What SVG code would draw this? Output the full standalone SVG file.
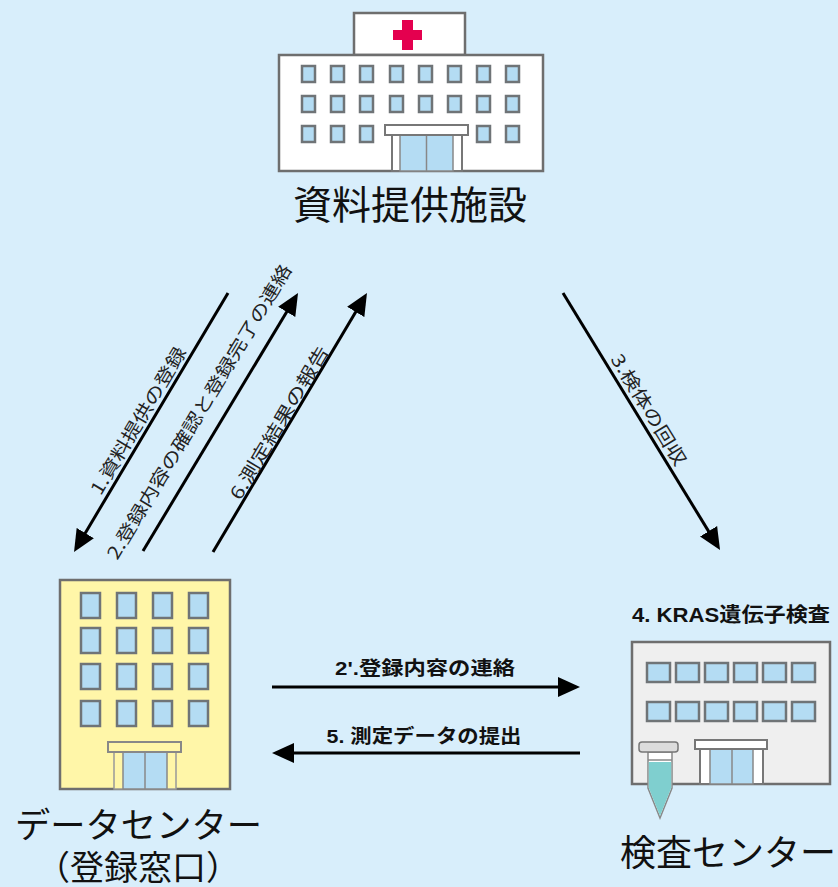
<svg xmlns="http://www.w3.org/2000/svg" width="838" height="887" viewBox="0 0 838 887">
  <style>
    .bg { fill: #d8eefb; }
    .wall { stroke: #6e6e6e; stroke-width: 2.5; }
    .win { fill: #b4dcf3; stroke: #6f7477; stroke-width: 2.5; }
    .trim { fill: #ffffff; stroke: #777; stroke-width: 2; }
    .glass { fill: #b4dcf3; stroke: #888; stroke-width: 1.5; }
    .arrow { fill: none; stroke: #000; stroke-width: 3; marker-end: url(#head); }
    .big { font-family: "Noto Sans CJK JP", sans-serif; fill: #111; }
    .lbl { font-family: "Liberation Sans", "Noto Sans CJK JP", sans-serif; font-weight: bold; fill: #111; }
    .diag { font-family: "Noto Sans CJK JP", sans-serif; font-size: 18px; fill: #222; dominant-baseline: central; text-anchor: middle; }
  </style>
  <defs>
    <marker id="head" markerUnits="userSpaceOnUse" markerWidth="24" markerHeight="22" refX="6" refY="11" orient="auto">
      <path d="M0,1 L22,11 L0,21 z" fill="#000"/>
    </marker>
  </defs>

  <rect class="bg" x="0" y="0" width="838" height="887"/>

  <!-- hospital -->
  <g id="hospital">
    <rect class="wall" x="354" y="13" width="111" height="42" fill="#fff"/>
    <rect x="402" y="20" width="11" height="30" fill="#e4004f"/>
    <rect x="393" y="30" width="29" height="10" fill="#e4004f"/>
    <rect class="wall" x="279" y="55" width="264" height="116" fill="#fff"/>
    <g>
      <rect class="win" x="302" y="66" width="13" height="16"/>
      <rect class="win" x="331" y="66" width="13" height="16"/>
      <rect class="win" x="360" y="66" width="13" height="16"/>
      <rect class="win" x="390" y="66" width="13" height="16"/>
      <rect class="win" x="419" y="66" width="13" height="16"/>
      <rect class="win" x="448" y="66" width="13" height="16"/>
      <rect class="win" x="477" y="66" width="13" height="16"/>
      <rect class="win" x="506" y="66" width="13" height="16"/>
      <rect class="win" x="302" y="96" width="13" height="16"/>
      <rect class="win" x="331" y="96" width="13" height="16"/>
      <rect class="win" x="360" y="96" width="13" height="16"/>
      <rect class="win" x="390" y="96" width="13" height="16"/>
      <rect class="win" x="419" y="96" width="13" height="16"/>
      <rect class="win" x="448" y="96" width="13" height="16"/>
      <rect class="win" x="477" y="96" width="13" height="16"/>
      <rect class="win" x="506" y="96" width="13" height="16"/>
      <rect class="win" x="302" y="126" width="13" height="16"/>
      <rect class="win" x="331" y="126" width="13" height="16"/>
      <rect class="win" x="360" y="126" width="13" height="16"/>
      <rect class="win" x="477" y="126" width="13" height="16"/>
      <rect class="win" x="506" y="126" width="13" height="16"/>
    </g>
    <rect class="trim" x="392" y="135" width="70" height="36"/>
    <rect class="glass" x="400" y="135" width="53" height="36"/>
    <line x1="426.5" y1="135" x2="426.5" y2="171" stroke="#888" stroke-width="1.5"/>
    <rect class="trim" x="385" y="125" width="83" height="10"/>
    <text class="big" x="410" y="219" font-size="39" text-anchor="middle">資料提供施設</text>
  </g>

  <!-- data centre -->
  <g id="data-center">
    <rect class="wall" x="60" y="580" width="170" height="209" fill="#fff6a8" stroke="#7a7a70"/>
    <g>
      <rect class="win" x="81" y="593" width="19" height="25"/>
      <rect class="win" x="117" y="593" width="19" height="25"/>
      <rect class="win" x="153" y="593" width="19" height="25"/>
      <rect class="win" x="189" y="593" width="19" height="25"/>
      <rect class="win" x="81" y="628" width="19" height="25"/>
      <rect class="win" x="117" y="628" width="19" height="25"/>
      <rect class="win" x="153" y="628" width="19" height="25"/>
      <rect class="win" x="189" y="628" width="19" height="25"/>
      <rect class="win" x="81" y="664" width="19" height="25"/>
      <rect class="win" x="117" y="664" width="19" height="25"/>
      <rect class="win" x="153" y="664" width="19" height="25"/>
      <rect class="win" x="189" y="664" width="19" height="25"/>
      <rect class="win" x="81" y="701" width="19" height="25"/>
      <rect class="win" x="117" y="701" width="19" height="25"/>
      <rect class="win" x="153" y="701" width="19" height="25"/>
      <rect class="win" x="189" y="701" width="19" height="25"/>
    </g>
    <rect x="114" y="752" width="62" height="37" fill="#fff6a8" stroke="#999" stroke-width="1.5"/>
    <rect class="glass" x="123" y="752" width="44" height="37"/>
    <line x1="145" y1="752" x2="145" y2="789" stroke="#888" stroke-width="1.5"/>
    <rect x="108" y="742" width="73" height="10" fill="#fff6a8" stroke="#888" stroke-width="2"/>
    <text class="big" x="15" y="838" font-size="35" textLength="247" lengthAdjust="spacingAndGlyphs">データセンター</text>
    <text class="big" x="138" y="880" font-size="34" text-anchor="middle">（登録窓口）</text>
  </g>

  <!-- testing centre -->
  <g id="test-center">
    <text class="lbl" x="632" y="622" font-size="20" textLength="198" lengthAdjust="spacingAndGlyphs">4. KRAS遺伝子検査</text>
    <rect class="wall" x="632" y="642" width="198" height="142" fill="#efefef" stroke="#777"/>
    <g>
      <rect class="win" x="647" y="663" width="23" height="19"/>
      <rect class="win" x="676" y="663" width="23" height="19"/>
      <rect class="win" x="705" y="663" width="23" height="19"/>
      <rect class="win" x="734" y="663" width="23" height="19"/>
      <rect class="win" x="763" y="663" width="23" height="19"/>
      <rect class="win" x="792" y="663" width="23" height="19"/>
      <rect class="win" x="647" y="702" width="23" height="19"/>
      <rect class="win" x="676" y="702" width="23" height="19"/>
      <rect class="win" x="705" y="702" width="23" height="19"/>
      <rect class="win" x="734" y="702" width="23" height="19"/>
      <rect class="win" x="763" y="702" width="23" height="19"/>
      <rect class="win" x="792" y="702" width="23" height="19"/>
    </g>
    <rect class="trim" x="700" y="749" width="63" height="35" fill="#f4f4f4"/>
    <rect class="glass" x="710" y="749" width="43" height="35"/>
    <line x1="732" y1="749" x2="732" y2="784" stroke="#888" stroke-width="1.5"/>
    <rect class="trim" x="695" y="740" width="72" height="9" fill="#f4f4f4"/>
    <!-- sample tube -->
    <g id="tube">
      <path d="M648,752 L672,752 L672,788 L660,818 L648,788 z" fill="#ffffff" stroke="#888" stroke-width="1.5"/>
      <path d="M648.8,762 L671.2,762 L671.2,788 L660,816 L648.8,788 z" fill="#7fcfcf"/>
      <line x1="648" y1="760" x2="672" y2="760" stroke="#888" stroke-width="1.5"/>
      <rect x="639" y="742" width="39" height="10" rx="3" fill="#dcdcdc" stroke="#777" stroke-width="1.5"/>
    </g>
    <text class="big" x="620" y="866" font-size="36" textLength="216" lengthAdjust="spacingAndGlyphs">検査センター</text>
  </g>

  <!-- connectors -->
  <g id="connectors">
    <path class="arrow" d="M228,293 L82.2,538.2"/>
    <path class="arrow" d="M143,551 L289.8,306.7"/>
    <path class="arrow" d="M213,552 L358.8,306.8"/>
    <path class="arrow" d="M563,293 L711.7,536.4"/>
    <path class="arrow" d="M272,687 L564,687"/>
    <path class="arrow" d="M580,753 L288,753"/>
    <text class="diag" transform="translate(137,420) rotate(-59.2)" textLength="168" lengthAdjust="spacingAndGlyphs">1.資料提供の登録</text>
    <text class="diag" transform="translate(198,411) rotate(-59)" textLength="340" lengthAdjust="spacingAndGlyphs">2.登録内容の確認と登録完了の連絡</text>
    <text class="diag" transform="translate(278,422) rotate(-59.3)" textLength="175" lengthAdjust="spacingAndGlyphs">6.測定結果の報告</text>
    <text class="diag" transform="translate(650,409) rotate(58.6)" textLength="127" lengthAdjust="spacingAndGlyphs">3.検体の回収</text>
    <text class="lbl" x="425" y="675" font-size="19" text-anchor="middle" textLength="180" lengthAdjust="spacingAndGlyphs">2'.登録内容の連絡</text>
    <text class="lbl" x="424" y="743" font-size="19" text-anchor="middle" textLength="195" lengthAdjust="spacingAndGlyphs">5. 測定データの提出</text>
  </g>
</svg>
